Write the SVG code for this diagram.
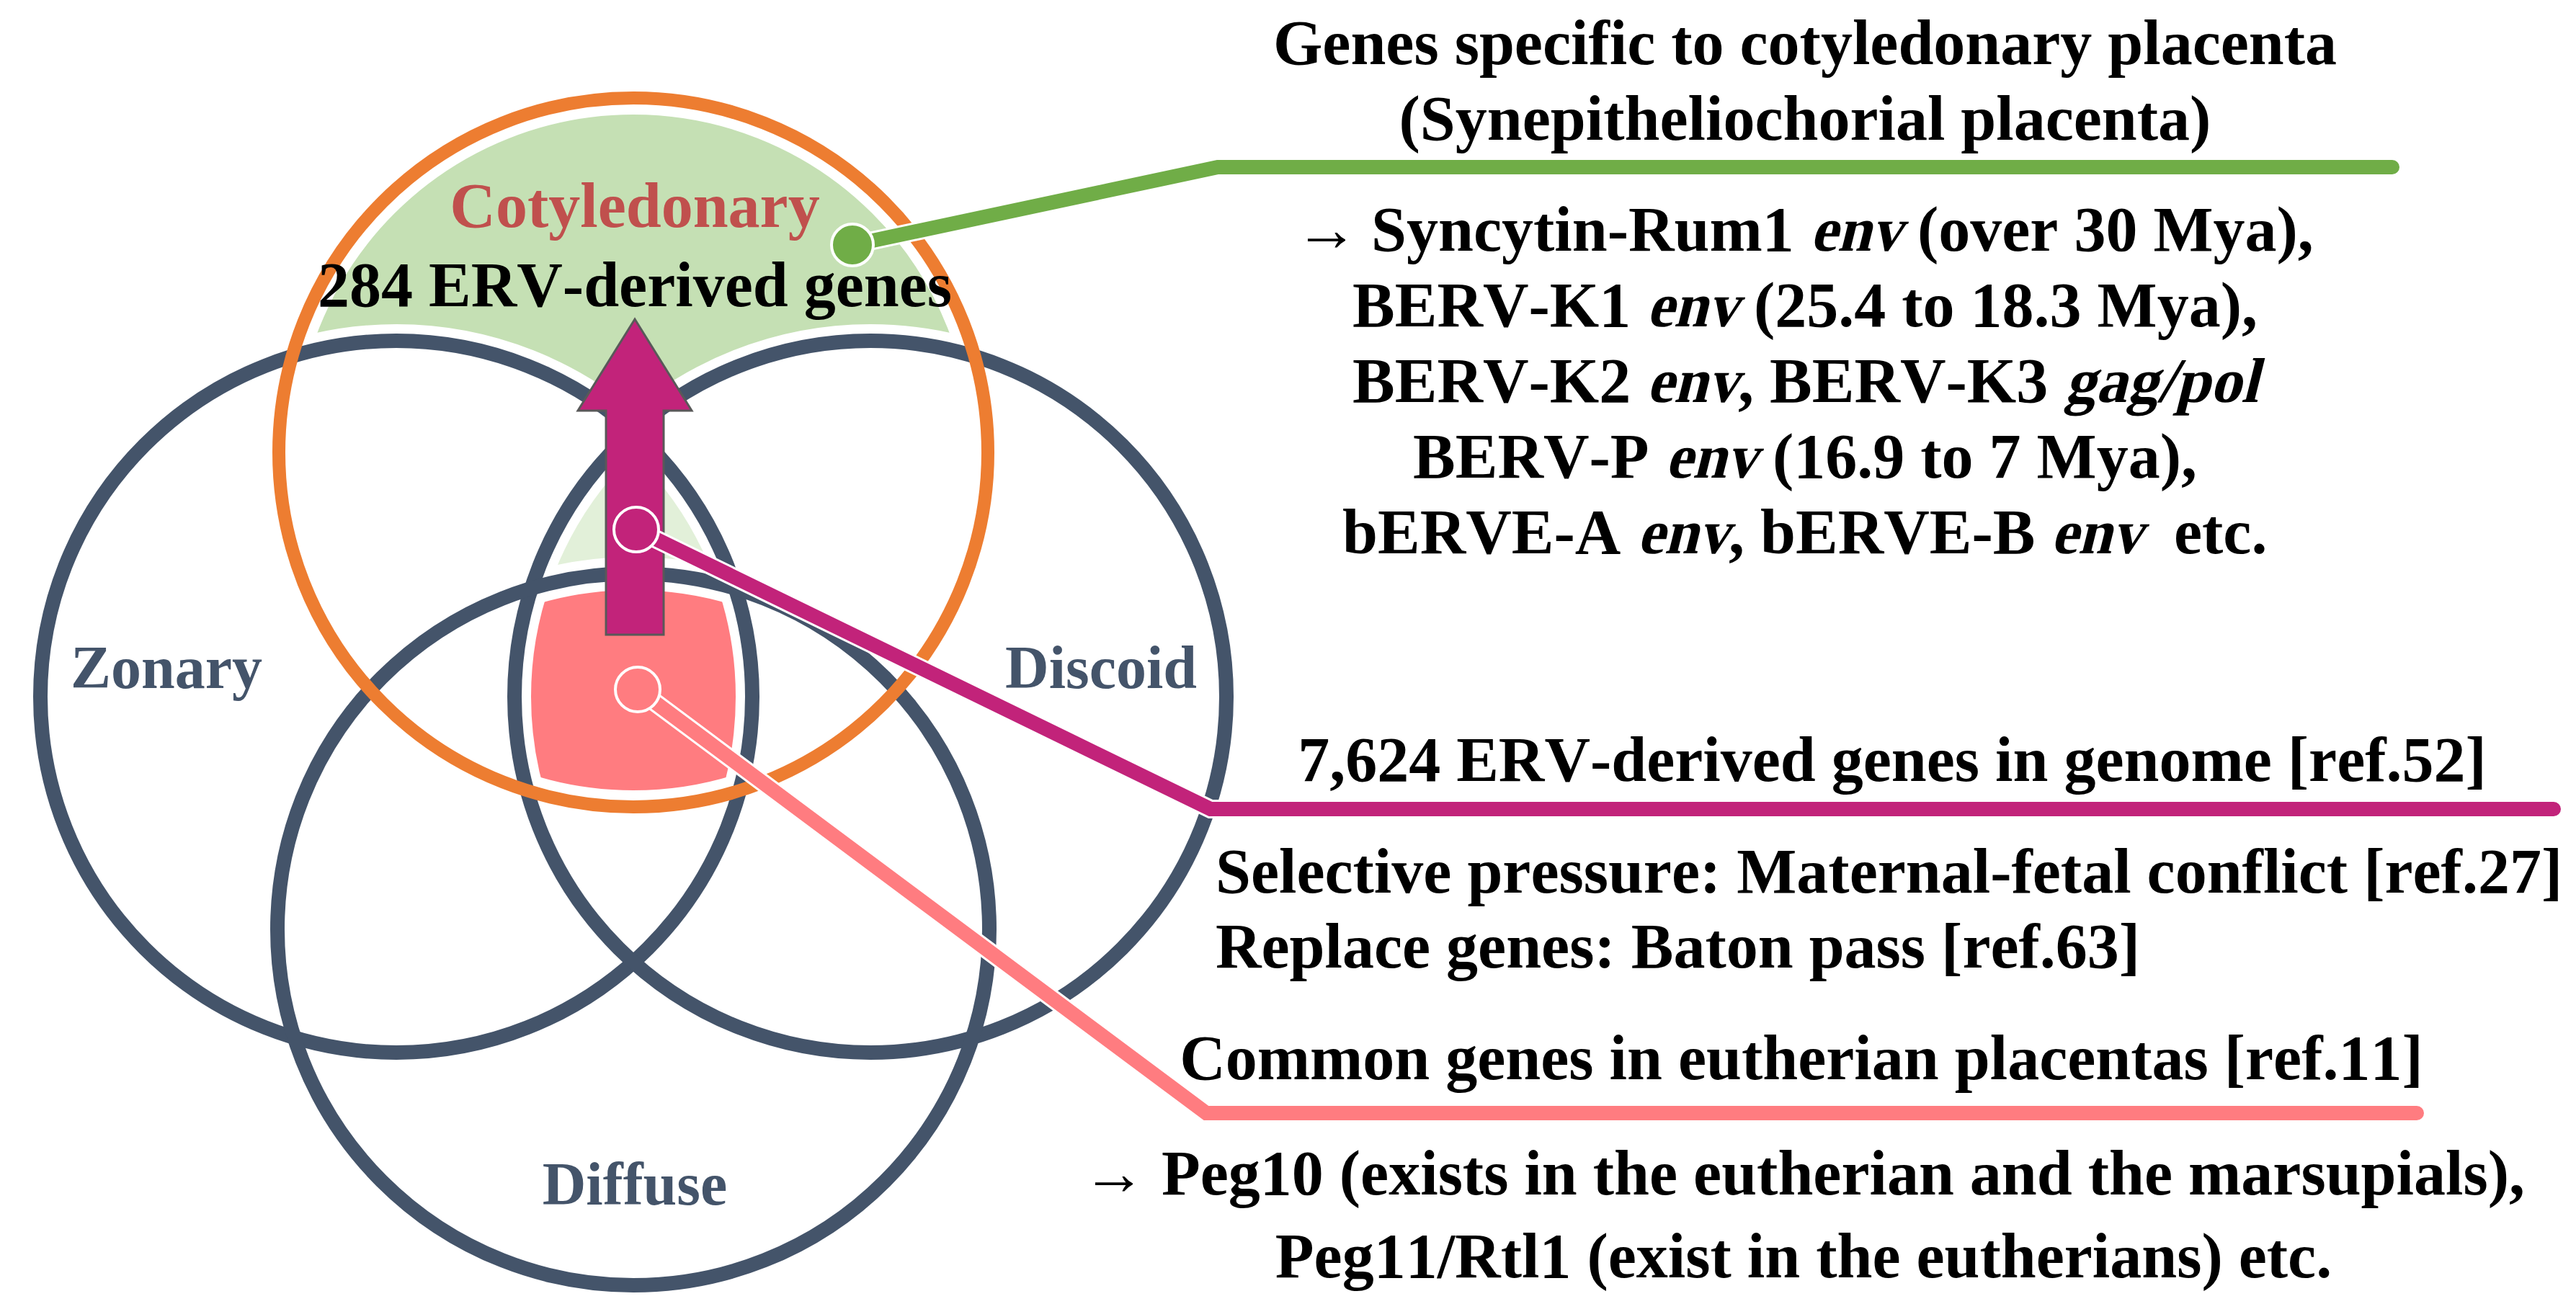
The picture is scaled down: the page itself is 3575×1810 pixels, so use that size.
<svg xmlns="http://www.w3.org/2000/svg" width="3575" height="1810" viewBox="0 0 3575 1810">
<style>
.t{font-family:"Liberation Serif","Times New Roman",serif;font-weight:bold;font-size:88px;fill:#000;font-kerning:none}
.lbl{font-size:84px;fill:#44546A}
.ring{fill:none;stroke:#44546A;stroke-width:20}
.halo{fill:none;stroke:#fff;stroke-width:46}
.conn{fill:none;stroke-width:20;stroke-linecap:round;stroke-linejoin:miter}
.under{fill:none;stroke:#fff;stroke-width:26;stroke-linecap:round}
.dot{stroke:#fff;stroke-width:4}
</style>
<defs>
<clipPath id="cZon"><circle cx="550" cy="967" r="494"/></clipPath>
<clipPath id="cDis"><circle cx="1208" cy="967" r="494"/></clipPath>
<clipPath id="cOra"><circle cx="879" cy="628" r="492"/></clipPath>
</defs>
<rect width="3575" height="1810" fill="#fff"/>
<g id="regions">
<circle cx="879" cy="628" r="492" fill="#C5E0B4"/>
<circle cx="550" cy="967" r="494" fill="#fff"/>
<circle cx="1208" cy="967" r="494" fill="#fff"/>
<g clip-path="url(#cZon)"><g clip-path="url(#cDis)">
<rect x="600" y="550" width="560" height="850" fill="#E2F0D9"/>
<circle cx="879" cy="1290" r="494" fill="#fff"/>
<g clip-path="url(#cOra)"><circle cx="879" cy="1290" r="494" fill="#FF7C80"/></g>
</g></g>
</g>
<g id="halos">
<circle class="halo" cx="550" cy="967" r="494"/>
<circle class="halo" cx="1208" cy="967" r="494"/>
<circle class="halo" cx="879" cy="1290" r="494"/>
<circle class="halo" cx="879" cy="628" r="492"/>
</g>
<g id="zonary">
<circle class="ring" cx="550" cy="967" r="494"/>
<text class="t lbl" x="231" y="955" text-anchor="middle">Zonary</text>
</g>
<g id="discoid">
<circle class="ring" cx="1208" cy="967" r="494"/>
<text class="t lbl" x="1528" y="955" text-anchor="middle">Discoid</text>
</g>
<g id="diffuse">
<circle class="ring" cx="879" cy="1290" r="494"/>
<text class="t lbl" x="881" y="1672" text-anchor="middle">Diffuse</text>
</g>
<g id="cotyledonary">
<circle cx="879" cy="628" r="492" fill="none" stroke="#ED7D31" stroke-width="18"/>
<text class="t" x="881" y="315" text-anchor="middle" style="fill:#C0504D">Cotyledonary</text>
<text class="t" x="881" y="425" text-anchor="middle">284 ERV-derived genes</text>
</g>
<g id="arrow">
<polygon points="881,443 960,570 921,570 921,881 841,881 841,570 802,570" fill="#C2237A" stroke="#595959" stroke-width="3" stroke-linejoin="miter"/>
</g>
<g id="connectors">
<polyline class="under" points="1183,340 1690,232 3320,232"/>
<polyline class="under" points="883,735 1680,1123 3544,1123"/>
<polyline class="under" points="885,957 1674,1545 3354,1545"/>
<polyline class="conn" stroke="#70AD47" points="1183,340 1690,232 3320,232"/>
<polyline class="conn" stroke="#C2237A" points="883,735 1680,1123 3544,1123"/>
<polyline class="conn" stroke="#FF7C80" points="885,957 1674,1545 3354,1545"/>
<circle class="dot" cx="1183" cy="340" r="29" fill="#70AD47"/>
<circle class="dot" cx="883" cy="735" r="31" fill="#C2237A"/>
<circle class="dot" cx="885" cy="957" r="31" fill="#FF7C80"/>
</g>
<g id="note-cotyledonary">
<text class="t" x="2505" y="89" text-anchor="middle">Genes specific to cotyledonary placenta</text>
<text class="t" x="2505" y="194" text-anchor="middle">(Synepitheliochorial placenta)</text>
<text class="t" y="348"><tspan x="1797">→</tspan><tspan x="1903">Syncytin-Rum1</tspan><tspan x="2639" xml:space="preserve"> (over 30 Mya),</tspan></text>
<text class="t" transform="translate(2512,348) skewX(-14)" textLength="127" lengthAdjust="spacingAndGlyphs">env</text>
<text class="t" y="453"><tspan x="1877">BERV-K1</tspan><tspan x="2412" xml:space="preserve"> (25.4 to 18.3 Mya),</tspan></text>
<text class="t" transform="translate(2285,453) skewX(-14)" textLength="127" lengthAdjust="spacingAndGlyphs">env</text>
<text class="t" y="558"><tspan x="1877">BERV-K2</tspan><tspan x="2412">, BERV-K3</tspan></text>
<text class="t" transform="translate(2285,558) skewX(-14)" textLength="127" lengthAdjust="spacingAndGlyphs">env</text>
<text class="t" transform="translate(2865,558) skewX(-14)" textLength="269" lengthAdjust="spacingAndGlyphs">gag/pol</text>
<text class="t" y="663"><tspan x="1961">BERV-P</tspan><tspan x="2438" xml:space="preserve"> (16.9 to 7 Mya),</tspan></text>
<text class="t" transform="translate(2311,663) skewX(-14)" textLength="127" lengthAdjust="spacingAndGlyphs">env</text>
<text class="t" y="768"><tspan x="1863">bERVE-A</tspan><tspan x="2399">, bERVE-B</tspan><tspan x="2973" xml:space="preserve">  etc.</tspan></text>
<text class="t" transform="translate(2272,768) skewX(-14)" textLength="127" lengthAdjust="spacingAndGlyphs">env</text>
<text class="t" transform="translate(2846,768) skewX(-14)" textLength="127" lengthAdjust="spacingAndGlyphs">env</text>
</g>
<g id="note-erv">
<text class="t" x="2626" y="1084" text-anchor="middle">7,624 ERV-derived genes in genome [ref.52]</text>
<text class="t" x="1687" y="1239">Selective pressure: Maternal-fetal conflict [ref.27]</text>
<text class="t" x="1687" y="1343">Replace genes: Baton pass [ref.63]</text>
</g>
<g id="note-common">
<text class="t" x="2500" y="1498" text-anchor="middle">Common genes in eutherian placentas [ref.11]</text>
<text class="t" x="2503" y="1658" text-anchor="middle">→ Peg10 (exists in the eutherian and the marsupials),</text>
<text class="t" x="2503" y="1773" text-anchor="middle">Peg11/Rtl1 (exist in the eutherians) etc.</text>
</g>
</svg>
